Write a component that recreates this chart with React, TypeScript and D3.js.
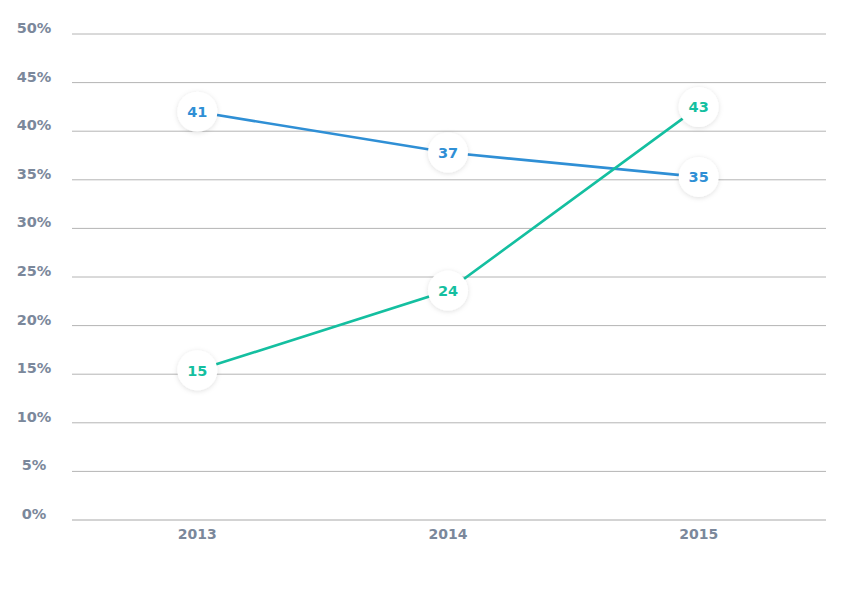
import React from 'react';
import * as d3 from 'd3';

// Years on the x axis
const years = ['2013', '2014', '2015'];
// Plotted positions and the labels shown in the bubbles
const blueValues = [42.0, 37.8, 35.3];
const blueLabels = ['41', '37', '35'];
const greenValues = [15.4, 23.6, 42.5];
const greenLabels = ['15', '24', '43'];
const yTicks = [0, 5, 10, 15, 20, 25, 30, 35, 40, 45, 50];

const BLUE = '#2f8fd5';
const GREEN = '#14bfa0';
const LABEL = '#7b889b';

const width = 842;
const height = 595;
const margin = { top: 34, right: 16, bottom: 75, left: 72 };

export default function App() {
  const x = d3.scaleBand().domain(years).range([margin.left, width - margin.right - 2]);
  const cx = (d: string) => (x(d) || 0) + x.bandwidth() / 2;
  const y = d3.scaleLinear().domain([0, 50]).range([height - margin.bottom, margin.top]);

  const line = d3.line<number>()
    .x((_, i) => cx(years[i]))
    .y(d => y(d));

  const series = [
    { values: blueValues, labels: blueLabels, color: BLUE },
    { values: greenValues, labels: greenLabels, color: GREEN },
  ];

  return (
    <svg
      width={width}
      height={height}
      style={{ position: 'absolute', left: 0, top: 0, display: 'block', background: '#fff' }}
      fontFamily="'DejaVu Sans', sans-serif"
    >
      <defs>
        <filter id="bubbleShadow" x="-50%" y="-50%" width="200%" height="200%">
          <feDropShadow dx="0" dy="1" stdDeviation="2.4" floodColor="#000" floodOpacity="0.13" />
        </filter>
      </defs>

      {/* grid + y labels */}
      {yTicks.map(t => (
        <g key={t}>
          <line
            x1={margin.left}
            x2={width - margin.right}
            y1={y(t)}
            y2={y(t)}
            stroke={t === 0 ? '#a8a8a8' : '#b4b4b4'}
            strokeWidth={1}
          />
          <text
            x={34}
            y={y(t) - 1}
            textAnchor="middle"
            fontSize={14.5}
            fontWeight={700}
            fill={LABEL}
          >
            {t}%
          </text>
        </g>
      ))}

      {/* x labels */}
      {years.map(yr => (
        <text
          key={yr}
          x={cx(yr)}
          y={y(0) + 19}
          textAnchor="middle"
          fontSize={14}
          fontWeight={700}
          fill={LABEL}
        >
          {yr}
        </text>
      ))}

      {/* lines */}
      {series.map((s, i) => (
        <path key={i} d={line(s.values) || ''} fill="none" stroke={s.color} strokeWidth={2.6} />
      ))}

      {/* bubbles */}
      {series.map((s, i) => (
        <g key={i}>
          {s.values.map((v, j) => (
            <g key={j} transform={`translate(${cx(years[j])},${y(v)})`}>
              <circle r={20} fill="#fff" filter="url(#bubbleShadow)" />
              <text
                textAnchor="middle"
                dy="0.36em"
                fontSize={14.5}
                fontWeight={700}
                fill={s.color}
              >
                {s.labels[j]}
              </text>
            </g>
          ))}
        </g>
      ))}
    </svg>
  );
}
